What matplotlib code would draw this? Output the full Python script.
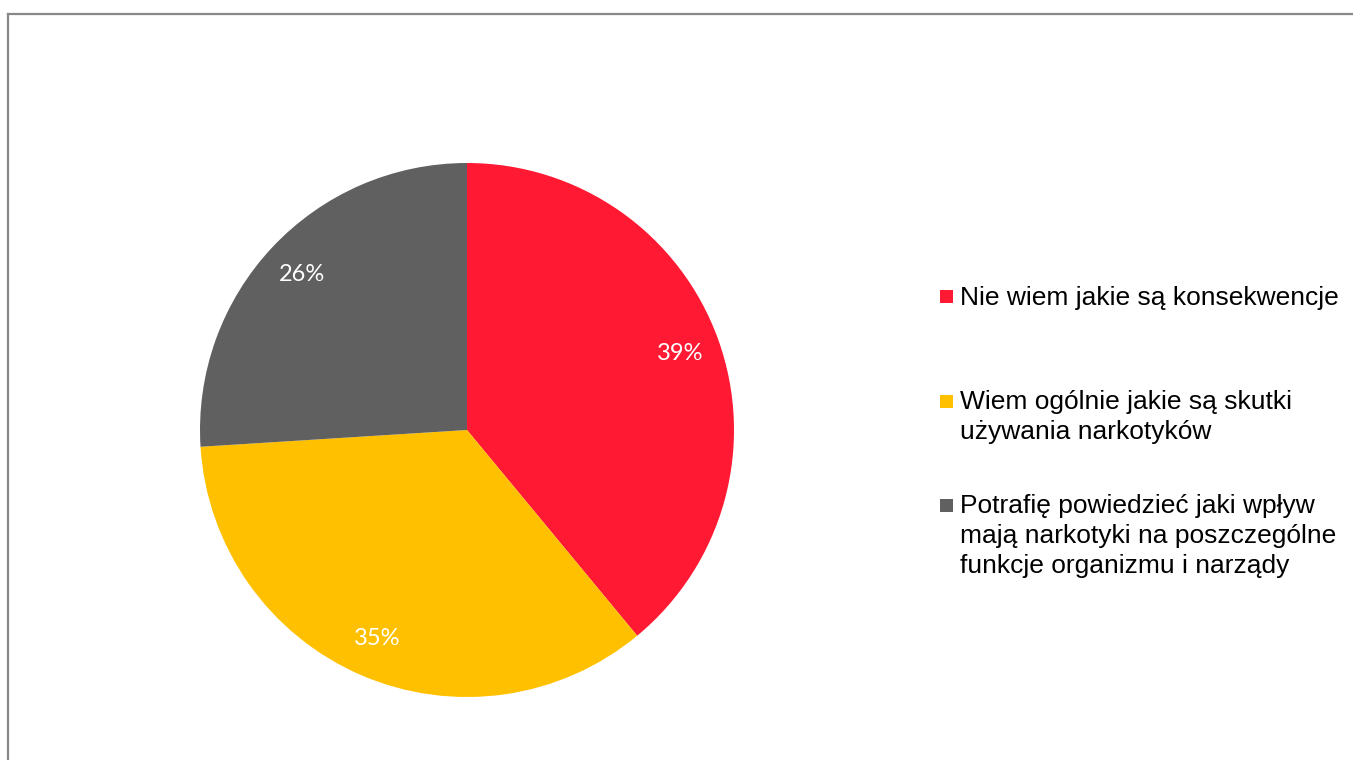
import matplotlib
matplotlib.use("Agg")
import matplotlib.pyplot as plt
from matplotlib.patches import Rectangle
from matplotlib.lines import Line2D

categories = [
    "Nie wiem jakie są konsekwencje",
    "Wiem ogólnie jakie są skutki\nużywania narkotyków",
    "Potrafię powiedzieć jaki wpływ\nmają narkotyki na poszczególne\nfunkcje organizmu i narządy",
]
values = [39, 35, 26]
colors = ["#FF1933", "#FFC000", "#606060"]

W, H = 1353, 760
fig = plt.figure(figsize=(W / 100, H / 100), dpi=100)
fig.patch.set_facecolor("white")

# chart border (top and left visible)
fig.add_artist(Line2D([7.5 / W, 1352 / W], [1 - 13.5 / H, 1 - 13.5 / H],
                      color="#888888", lw=1.6, transform=fig.transFigure))
fig.add_artist(Line2D([7.5 / W, 7.5 / W], [0, 1 - 13.5 / H],
                      color="#888888", lw=1.6, transform=fig.transFigure))

cx, cy, r = 467, 430, 267
ax = fig.add_axes([(cx - r) / W, (H - cy - r) / H, 2 * r / W, 2 * r / H])
wedges, texts, autotexts = ax.pie(
    values, colors=colors, startangle=90, counterclock=False,
    autopct=lambda p: f"{p:.0f}%", pctdistance=0.85,
    wedgeprops=dict(linewidth=0),
    textprops=dict(color="white", fontsize=17, family="Lato"),
)
ax.set_xlim(-1, 1)
ax.set_ylim(-1, 1)
ax.set_aspect("equal")
ax.axis("off")

# legend
item_centers = [297, 401, 505]
line_gap = 30
for lab, col, yc in zip(categories, colors, item_centers):
    fig.add_artist(Rectangle(((940) / W, 1 - (yc + 6.5) / H), 13 / W, 13 / H,
                             facecolor=col, edgecolor="none",
                             transform=fig.transFigure))
    for i, line in enumerate(lab.split("\n")):
        yb = yc + 8 + i * line_gap
        fig.text(960 / W, 1 - yb / H, line, fontsize=19,
                 family="Liberation Sans", color="black", va="baseline",
                 ha="left")

fig.savefig("out.png", dpi=100, facecolor="white")
